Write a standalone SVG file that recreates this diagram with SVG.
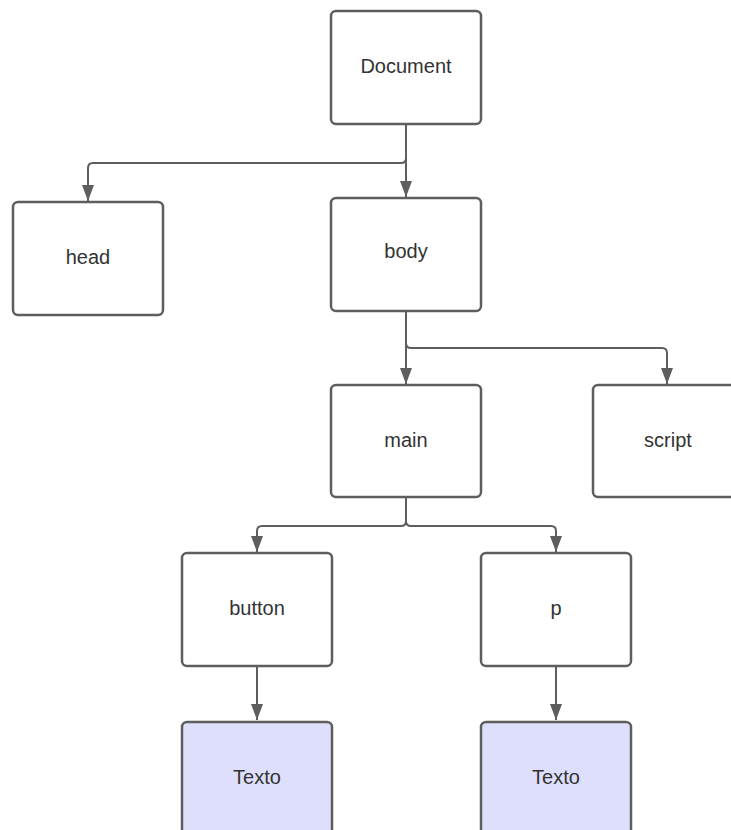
<svg xmlns="http://www.w3.org/2000/svg" width="731" height="830" viewBox="0 0 731 830">
<defs>
<style>
.box{fill:#ffffff;stroke:#5e5e5e;stroke-width:2.5}
.leaf{fill:#dedffc;stroke:#5e5e5e;stroke-width:2.5}
.lbl{font-family:"Liberation Sans",Arial,sans-serif;font-size:20px;fill:#333333;text-anchor:middle}
.edge{fill:none;stroke:#5e5e5e;stroke-width:2}
</style>
<marker id="arr" viewBox="0 0 10 10" refX="10" refY="5" markerWidth="5.5" markerHeight="8" markerUnits="userSpaceOnUse" orient="auto" preserveAspectRatio="none">
<path d="M0,0 L10,5 L0,10 Z" fill="#5e5e5e"/>
</marker>
<marker id="arrow" viewBox="0 0 16 12" refX="16" refY="6" markerWidth="16" markerHeight="12" markerUnits="userSpaceOnUse" orient="auto">
<path d="M0,0 L16,6 L0,12 Z" fill="#5e5e5e"/>
</marker>
</defs>
<rect width="731" height="830" fill="#ffffff"/>
<g id="connectors">
<path class="edge" marker-end="url(#arrow)" d="M406,124 V197"/>
<path class="edge" marker-end="url(#arrow)" d="M406,124 V158 Q406,163 401,163 H93 Q88,163 88,168 V201"/>
<path class="edge" marker-end="url(#arrow)" d="M406,311 V384"/>
<path class="edge" marker-end="url(#arrow)" d="M406,311 V343 Q406,348 411,348 H662 Q667,348 667,353 V384"/>
<path class="edge" marker-end="url(#arrow)" d="M406,497 V521 Q406,526 401,526 H262 Q257,526 257,531 V552"/>
<path class="edge" marker-end="url(#arrow)" d="M406,497 V521 Q406,526 411,526 H551 Q556,526 556,531 V552"/>
<path class="edge" marker-end="url(#arrow)" d="M257,666 V720"/>
<path class="edge" marker-end="url(#arrow)" d="M556,666 V720"/>
</g>
<g id="document"><rect class="box" x="331" y="11" width="150" height="113" rx="5"/><text class="lbl" x="406" y="73">Document</text></g>
<g id="head"><rect class="box" x="13" y="202" width="150" height="113" rx="5"/><text class="lbl" x="88" y="264">head</text></g>
<g id="body"><rect class="box" x="331" y="198" width="150" height="113" rx="5"/><text class="lbl" x="406" y="258">body</text></g>
<g id="main"><rect class="box" x="331" y="385" width="150" height="112" rx="5"/><text class="lbl" x="406" y="447">main</text></g>
<g id="script"><rect class="box" x="593" y="385" width="150" height="112" rx="5"/><text class="lbl" x="668" y="447">script</text></g>
<g id="button"><rect class="box" x="182" y="553" width="150" height="113" rx="5"/><text class="lbl" x="257" y="615">button</text></g>
<g id="p"><rect class="box" x="481" y="553" width="150" height="113" rx="5"/><text class="lbl" x="556" y="615">p</text></g>
<g id="texto1"><rect class="leaf" x="182" y="722" width="150" height="113" rx="5"/><text class="lbl" x="257" y="784">Texto</text></g>
<g id="texto2"><rect class="leaf" x="481" y="722" width="150" height="113" rx="5"/><text class="lbl" x="556" y="784">Texto</text></g>
</svg>
